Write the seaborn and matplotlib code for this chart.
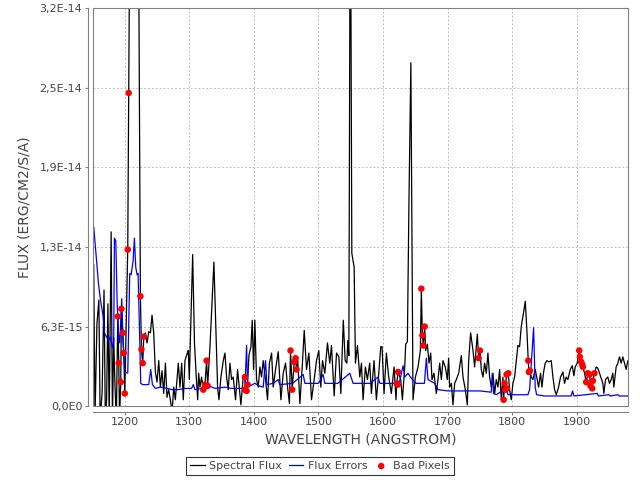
import matplotlib
matplotlib.use("Agg")
import matplotlib.pyplot as plt
import seaborn as sns
from matplotlib.patches import Rectangle

# flux values are read in units of 1e-15 erg/cm2/s/A
UNIT = 1e-15

flux_wave = [
    1152, 1154, 1157, 1160, 1162, 1165, 1168, 1170, 1172, 1174,
    1176, 1179, 1181, 1183, 1185, 1187, 1189.3, 1190.8, 1192, 1193.9,
    1194.9, 1197, 1198.5, 1200.1, 1202.5, 1204.7, 1206.2, 1209, 1215, 1221,
    1224.3, 1225.9, 1227.9, 1229.5, 1232, 1234.6, 1237.2, 1239.8, 1242.3, 1244.9,
    1247.5, 1250, 1252.7, 1255.2, 1257.8, 1260.4, 1263, 1265.5, 1268.1, 1270.7,
    1273.3, 1275.9, 1278.4, 1283, 1285.6, 1288.2, 1290.7, 1293.3, 1296.9, 1298.5,
    1300, 1302, 1305.2, 1308, 1310.8, 1313, 1314.5, 1316.5, 1319, 1321.7,
    1324.2, 1326.8, 1328.4, 1332, 1338.1, 1343.8, 1345.9, 1349, 1352.6, 1355.2,
    1357.7, 1360.3, 1362.9, 1365.5, 1368, 1371.6, 1374.7, 1377.3, 1379.9, 1383.5,
    1386.1, 1387.2, 1388.7, 1390.2, 1392.3, 1395.4, 1397.4, 1399.5, 1401.5, 1404.1,
    1406.7, 1409.3, 1411.9, 1414.4, 1418, 1421.1, 1424, 1427.4, 1429.9, 1433.5,
    1437.7, 1441.8, 1445.4, 1449, 1452.1, 1455, 1456.7, 1459.3, 1462.4, 1464.5,
    1466, 1467.6, 1471.2, 1474.8, 1477.9, 1481.5, 1485.1, 1489.2, 1493.3, 1496.9,
    1500.5, 1503.6, 1506.2, 1509.8, 1513.9, 1517.5, 1520.1, 1524.3, 1527.9, 1531.5,
    1534.6, 1538.4, 1541.3, 1543.9, 1545.4, 1547, 1549.3, 1551.6, 1555.2, 1557.2,
    1560.3, 1563.9, 1566.5, 1569, 1572.6, 1575.7, 1579.3, 1581.9, 1586, 1589.6,
    1593.3, 1596.4, 1598.4, 1601.5, 1605.1, 1608.7, 1612.8, 1617, 1620, 1621.1,
    1623.2, 1627.3, 1629.9, 1633.5, 1635, 1637.6, 1640, 1643, 1646.3, 1650,
    1654.1, 1657.7, 1659.2, 1660.8, 1662.3, 1664.4, 1665.9, 1668.5, 1671.1, 1673.7,
    1675.7, 1678.8, 1682.4, 1685, 1687.6, 1690.2, 1692.7, 1696.3, 1699.4, 1701.5,
    1703.1, 1705.7, 1708.2, 1710.8, 1713.4, 1717, 1721.1, 1723.7, 1727.3, 1730.4,
    1732.5, 1735.5, 1739.2, 1741.7, 1745.9, 1747.9, 1750, 1752, 1754.6, 1757.2,
    1759.8, 1762.3, 1764.9, 1767.5, 1770.1, 1772.7, 1775.2, 1777.8, 1780.4, 1783,
    1785.5, 1786.6, 1788.1, 1789.2, 1791.2, 1793.8, 1795.8, 1798.4, 1801, 1803.6,
    1806.2, 1808.7, 1811.3, 1813.9, 1816.5, 1820.1, 1822.6, 1824.7, 1825.7, 1827.3,
    1829.4, 1831.9, 1835.5, 1838.6, 1840.7, 1843.8, 1845.9, 1848.5, 1851, 1853.6,
    1856.7, 1860.3, 1862.9, 1865.5, 1868.1, 1871.7, 1874.7, 1878.4, 1880.9, 1883.5,
    1886.1, 1889.7, 1892.8, 1895.4, 1897.4, 1900.5, 1903.6, 1904.6, 1906.7, 1908.2,
    1909.3, 1911.9, 1914.4, 1917, 1919.6, 1921.1, 1923.7, 1924.7, 1927.3, 1929.9,
    1932.5, 1935.1, 1937.6, 1940.2, 1941.8, 1944.3, 1947.9, 1950.5, 1953.1, 1955.7,
    1957.2, 1960.8, 1963.4, 1966, 1968.5, 1971.1, 1973.7, 1976.3, 1978.9, 1982,
]
flux_vals = [
    11.2, -1, 6.5, 8.4, -1, 1.0, 9.2, -1, 0.5, 8.1,
    -1, 13.8, -1, 5.4, 1.5, -1, 7.1, 3.4, -1, 1.9,
    7.7, 5.8, 4.2, 1.0, 7.0, 12.4, 24.8, 48, 60, 42,
    8.7, 4.5, 3.4, 5.5, 5.8, 5.0, 5.9, 5.8, 7.2, 5.8,
    2.7, 1.9, 3.6, 1.5, 2.8, 1.0, 3.4, 0.7, 1.3, 0.5,
    -0.5, 1.5, 0.5, 3.4, 1.5, 3.4, 0.5, 3.6, 4.2, 4.4,
    2.1, 6.0, 12.0, 5.0, 2.3, 0.5, 2.6, 1.5, 2.3, 1.3,
    1.7, 3.6, 1.6, 4.7, 11.4, 1.5, 0.5, 2.3, 3.6, 4.2,
    2.3, 1.3, 3.4, 2.1, 2.3, 0.5, 2.9, 1.5, 0.1, 2.3,
    2.3, 1.3, 1.2, 1.7, 4.0, 4.7, 6.8, 2.9, 6.8, 2.1,
    1.5, 3.1, 2.3, 3.6, 2.1, 0.5, 3.4, 4.2, 1.5, 2.9,
    4.3, 0.5, 2.6, 3.4, 1.5, 0.2, 4.4, 1.3, 3.5, 3.8,
    2.9, 3.9, 0.2, 3.1, 6.0, 2.9, 4.2, 0.5, 2.1, 3.6,
    4.4, 1.5, 3.6, 2.6, 5.0, 3.4, 4.8, 0.8, 4.2, 3.9,
    1.0, 6.8, 3.6, 3.4, 5.2, 4.0, 45, 12.1, 11.0, 3.4,
    4.8, 2.3, 3.4, 0.5, 3.1, 2.1, 3.4, 1.0, 3.6, 0.5,
    2.6, 4.7, 4.7, 1.0, 4.2, 2.3, 1.0, 3.1, 0.5, 1.8,
    2.7, 2.1, 0.5, 3.1, 4.9, 5.1, 16, 27.2, 0.5, 2.3,
    3.1, 4.4, 9.3, 5.6, 4.8, 6.3, 4.4, 4.9, 3.4, 4.2,
    2.1, 2.6, 1.0, 2.1, 3.4, 2.1, 3.6, 3.1, 2.1, 3.8,
    1.5, 1.8, 0.1, 1.8, 2.1, 2.6, 4.0, 2.3, 1.3, 0.1,
    3.6, 5.8, 4.4, 3.1, 5.7, 3.8, 4.4, 2.9, 2.3, 3.4,
    2.6, 4.2, 2.3, 1.5, 2.6, 1.0, 2.1, 1.5, 2.9, 0.5,
    2.3, 0.5, 1.8, 1.4, 2.5, 2.6, 1.3, 0.5, 1.8, 2.3,
    3.6, 4.8, 4.7, 6.3, 7.1, 8.3, 6.0, 3.6, 2.7, 2.8,
    2.3, 2.1, 2.9, 2.1, 1.5, 2.6, 1.5, 2.7, 3.4, 3.6,
    3.5, 3.6, 2.3, 1.3, 0.9, 1.5, 2.3, 2.7, 1.8, 2.3,
    2.1, 2.9, 3.2, 2.4, 3.1, 3.4, 4.4, 3.9, 3.5, 3.3,
    3.1, 2.6, 1.9, 2.6, 2.5, 1.6, 1.4, 2.0, 2.6, 3.1,
    3.0, 2.6, 2.2, 1.8, 1.0, 2.1, 2.3, 1.8, 2.1, 2.6,
    1.5, 3.1, 3.4, 3.9, 3.4, 3.9, 3.4, 2.9, 3.6, 3.0,
]

err_wave = [
    1151, 1152.2, 1156.3, 1159.4, 1162.5, 1165, 1166.6, 1168.6, 1171.7, 1175.3,
    1177.9, 1181, 1183, 1184.1, 1186.2, 1188.2, 1190.3, 1192.4, 1195.4, 1197.5,
    1200.6, 1204.7, 1207.8, 1209.9, 1213, 1215, 1217.1, 1219.2, 1220.7, 1223.3,
    1224.8, 1227.9, 1237.2, 1240.3, 1242.9, 1247.5, 1256, 1265.5, 1274, 1283,
    1293.3, 1303.5, 1306.2, 1308.8, 1320, 1330, 1340, 1355, 1365, 1375,
    1386.1, 1388.7, 1390.2, 1401.5, 1408, 1414.4, 1418, 1420.1, 1430, 1437.7,
    1440, 1460, 1476.3, 1479, 1500, 1507.2, 1509.8, 1530, 1548.5, 1553.6,
    1580, 1592.2, 1595, 1625, 1630.9, 1633.5, 1638.6, 1643.8, 1651, 1664,
    1667, 1669.5, 1679.8, 1685, 1700.5, 1721, 1750, 1767.5, 1769, 1771.1,
    1775.2, 1790.7, 1793.3, 1824.2, 1826.8, 1833, 1835.5, 1837.6, 1850, 1891.2,
    1893.3, 1895.4, 1931.4, 1933.5, 1949.5, 1951.5, 1963.4, 1965.5, 1982,
]
err_vals = [
    14.4, 14.1, 11.6, 9.7, 8.4, 7.6, 7.1, 5.8, 5.5, 5.2,
    5.5, 4.6, 5.2, 13.3, 13.1, 8.4, 5.8, 5.0, 8.5, 5.0,
    2.7, 2.6, 10.5, 10.4, 11.5, 13.3, 11.0, 10.4, 10.5, 5.2,
    1.8, 1.7, 1.7, 2.9, 1.7, 1.4, 1.5, 1.4, 1.3, 1.3,
    1.4, 1.4, 1.7, 1.3, 1.4, 1.6, 1.4, 1.5, 1.4, 1.4,
    1.4, 4.8, 1.5, 1.8, 1.6, 1.5, 3.6, 1.7, 1.8, 2.1,
    1.7, 1.8, 2.5, 1.8, 1.8, 2.5, 1.8, 1.8, 2.6, 1.8,
    1.8, 2.3, 1.8, 1.8, 3.2, 2.3, 2.6, 2.2, 1.8, 1.8,
    3.8, 2.1, 1.8, 1.3, 1.2, 1.2, 1.2, 1.1, 2.6, 1.0,
    0.9, 1.4, 0.9, 0.9, 1.3, 6.2, 1.5, 0.9, 0.8, 0.8,
    1.2, 0.8, 1.0, 0.8, 0.9, 0.8, 0.9, 0.8, 0.8,
]

bad_wave = [
    1189.3, 1190.8, 1193.9, 1194.9, 1197.0, 1198.5, 1200.1, 1204.7, 1206.2,
    1224.3, 1225.9, 1227.9, 1229.5,
    1321.7, 1324.2, 1326.8, 1328.4,
    1386.1, 1386.1, 1388.7, 1390.2,
    1456.7, 1459.3, 1462.4, 1464.5, 1466.0,
    1621.1, 1622.6, 1623.2,
    1659.2, 1660.8, 1662.3, 1664.4,
    1747.9, 1750.0,
    1786.6, 1788.1, 1789.2, 1791.2, 1791.7, 1793.8,
    1824.7, 1825.7, 1827.3,
    1903.6, 1904.6, 1906.7, 1908.2, 1909.3, 1914.4, 1917.0, 1919.6,
    1921.1, 1923.7, 1924.7, 1927.3,
]
bad_vals = [
    7.1, 3.4, 1.9, 7.7, 5.8, 4.2, 1.0, 12.4, 24.8,
    8.7, 4.5, 3.4, 5.5,
    1.3, 1.7, 3.6, 1.6,
    2.3, 1.3, 1.2, 1.7,
    4.4, 1.3, 3.5, 3.8, 2.9,
    1.8, 1.7, 2.7,
    9.3, 5.6, 4.8, 6.3,
    3.8, 4.4,
    0.5, 1.8, 1.3, 2.5, 1.4, 2.6,
    3.6, 2.7, 2.8,
    4.4, 3.9, 3.5, 3.3, 3.1, 1.9, 2.6, 2.5,
    1.6, 1.4, 2.0, 2.6,
]

x_ticks = [1200, 1300, 1400, 1500, 1600, 1700, 1800, 1900]
y_ticks = [0, 6.3e-15, 1.26e-14, 1.89e-14, 2.52e-14, 3.15e-14]
y_tick_labels = ["0,0E0", "6,3E-15", "1,3E-14", "1,9E-14", "2,5E-14", "3,2E-14"]

plt.rcParams["font.family"] = ["DejaVu Sans"]

fig = plt.figure(figsize=(6.4, 4.8), dpi=100)
ax = fig.add_axes([0.146, 0.154, 0.835, 0.8285])

sns.lineplot(x=flux_wave, y=[v * UNIT for v in flux_vals], ax=ax, color="black",
             linewidth=0.9, estimator=None, sort=False, label="Spectral Flux")
sns.lineplot(x=err_wave, y=[v * UNIT for v in err_vals], ax=ax, color="#0000ff",
             linewidth=0.9, estimator=None, sort=False, label="Flux Errors")
sns.scatterplot(x=bad_wave, y=[v * UNIT for v in bad_vals], ax=ax, color="#ff0000",
                s=22, edgecolor="none", label="Bad Pixels", zorder=4)

ax.set_xlim(1151.6, 1978.9)
ax.set_ylim(0, 3.15e-14)
ax.set_xticks(x_ticks)
ax.set_yticks(y_ticks)
ax.set_yticklabels(y_tick_labels)

ax.grid(True, color="#c0c0c0", linestyle=(0, (2, 2)), linewidth=0.7)
ax.set_axisbelow(True)

# axis lines sit a few pixels away from the plot border
for side in ["top", "right"]:
    ax.spines[side].set_visible(False)
for side in ["left", "bottom"]:
    ax.spines[side].set_position(("outward", 4))
    ax.spines[side].set_color("#808080")
    ax.spines[side].set_linewidth(0.8)
ax.add_patch(Rectangle((0, 0), 1, 1, transform=ax.transAxes, fill=False,
                       edgecolor="#808080", linewidth=0.8, clip_on=False, zorder=5))

ax.tick_params(direction="out", length=2, width=0.8, color="#808080",
               labelcolor="#444444", labelsize=8, pad=2)
ax.set_xlabel("WAVELENGTH (ANGSTROM)", fontsize=10, color="#444444", labelpad=4)
ax.set_ylabel("FLUX (ERG/CM2/S/A)", fontsize=10, color="#444444", labelpad=6)

handles, labels = ax.get_legend_handles_labels()
ax.get_legend().remove()
leg = fig.legend(handles, labels, loc="center", bbox_to_anchor=(0.5, 1 - 466 / 480),
                 ncol=3, frameon=True, fancybox=False, edgecolor="black",
                 fontsize=8, handlelength=1.3, handletextpad=0.4,
                 columnspacing=0.6, borderpad=0.35, borderaxespad=0)
leg.get_frame().set_linewidth(0.8)
for t in leg.get_texts():
    t.set_color("#444444")

fig.savefig("out.png", dpi=100)
